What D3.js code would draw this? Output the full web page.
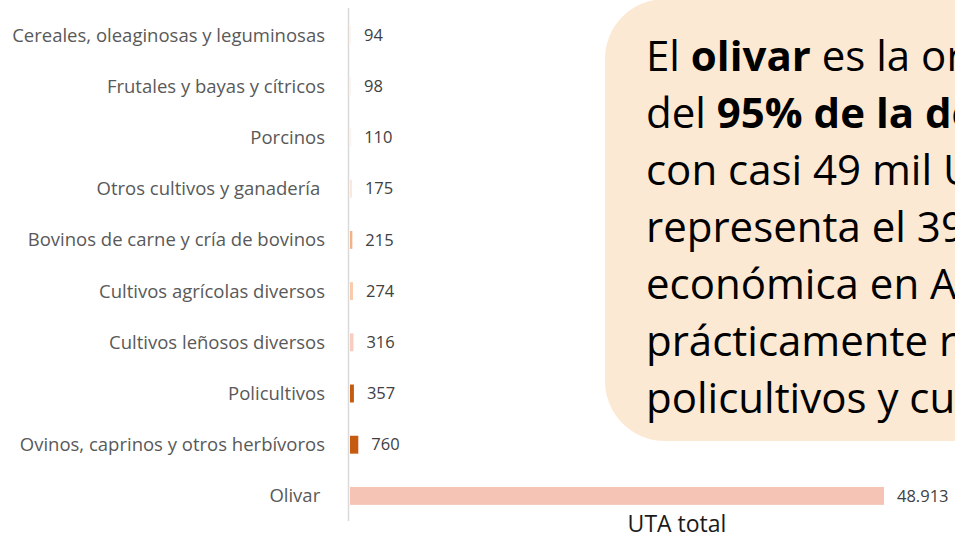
<!DOCTYPE html>
<html><head><meta charset="utf-8">
<script src="https://cdn.jsdelivr.net/npm/d3@7"></script>
<style>
html,body{margin:0;padding:0;background:#fff;overflow:hidden}
text{white-space:pre}
</style></head>
<body><svg id="c" width="955" height="536"></svg>
<script>
const categories = ["Cereales, oleaginosas y leguminosas","Frutales y bayas y cítricos","Porcinos","Otros cultivos y ganadería ","Bovinos de carne y cría de bovinos","Cultivos agrícolas diversos","Cultivos leñosos diversos","Policultivos","Ovinos, caprinos y otros herbívoros","Olivar "];
const values = [94,98,110,175,215,274,316,357,760,48913];
const valueLabels = ["94","98","110","175","215","274","316","357","760","48.913"];
const barColors = ["#FDF3EE","#FDF3EE","#FDF3EE","#FBE6DC","#F4B183","#F8CBAD","#F8CDC0","#C55A11","#C55A11","#F5C4B4"];
const axisTitle = "UTA total";
const boxLines = [
  [["El ",false],["olivar",true],[" es la orientación",false]],
  [["del ",false],["95% de la demanda",true]],
  [["con casi 49 mil UTA",false]],
  [["representa el 39%",false]],
  [["económica en Andalucía",false]],
  [["prácticamente residual",false]],
  [["policultivos y cultivos",false]]
];

const svg = d3.select("#c");
const font = "'Open Sans', 'Noto Sans', sans-serif";

// text box (clipped at the page edge as in the reference)
const defs = svg.append("defs");
defs.append("clipPath").attr("id","clip").append("rect").attr("x",600).attr("y",0).attr("width",355).attr("height",445);
const g0 = svg.append("g").attr("clip-path","url(#clip)");
g0.append("rect").attr("x",605).attr("y",-1).attr("width",460).attr("height",442).attr("rx",60).attr("ry",60).attr("fill","#FCE9D4");
const tl = g0.append("text").attr("font-family",font).attr("font-size",42).attr("fill","#000");
boxLines.forEach((ln,i)=>{
  ln.forEach(([s,b],j)=>{
    const sp = tl.append("tspan").text(s).attr("font-weight",b?"bold":"normal");
    if(j===0) sp.attr("x",646).attr("y",71+i*57);
  });
});

const x = d3.scaleLinear().domain([0,48913]).range([350,884]);
const y = d3.scaleBand().domain(categories).range([9.5,521.5]).paddingInner(0.65).paddingOuter(0.325);

svg.append("line").attr("x1",348.5).attr("x2",348.5).attr("y1",8).attr("y2",521).attr("stroke","#D9D9D9").attr("stroke-width",1.5);

svg.selectAll("rect.bar").data(categories).join("rect").attr("class","bar")
  .attr("x",x(0)).attr("y",d=>y(d)).attr("height",y.bandwidth())
  .attr("width",(d,i)=>x(values[i])-x(0)).attr("fill",(d,i)=>barColors[i]);

const cats = svg.selectAll("text.cat").data(categories).join("text").attr("class","cat")
  .attr("x",325).attr("y",d=>y(d)+y.bandwidth()/2).attr("dy","0.35em")
  .attr("text-anchor","end").attr("font-family",font).attr("font-size",17).attr("fill","#595959").text(d=>d);
// fit the longest label to the reference width (314px)
const w0 = cats.nodes()[0].getComputedTextLength();
const fs = Math.min(18.5, 17*314/w0);
cats.attr("font-size",fs);

svg.selectAll("text.val").data(categories).join("text").attr("class","val")
  .attr("x",(d,i)=>x(values[i])+13).attr("y",d=>y(d)+y.bandwidth()/2).attr("dy","0.35em")
  .attr("font-family",font).attr("font-size",16.5).attr("fill","#404040").text((d,i)=>valueLabels[i]);

svg.append("text").attr("x",677).attr("y",532).attr("text-anchor","middle")
  .attr("font-family",font).attr("font-size",23).attr("fill","#1a1a1a").text(axisTitle);
</script></body></html>
